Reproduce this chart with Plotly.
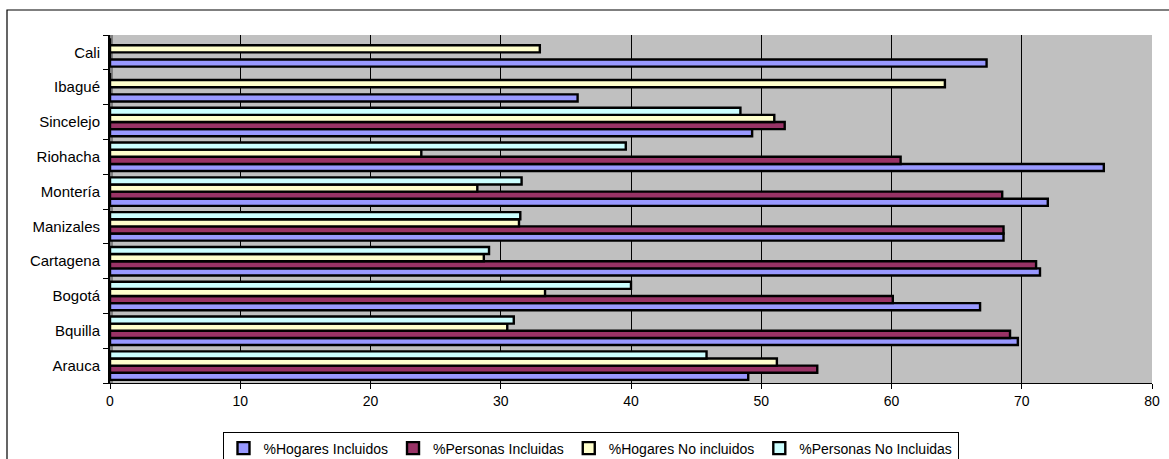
import plotly.graph_objects as go

ciudades = ["Arauca", "Bquilla", "Bogotá", "Cartagena", "Manizales",
            "Montería", "Riohacha", "Sincelejo", "Ibagué", "Cali"]

hogares_incluidos = [49.0, 69.7, 66.8, 71.4, 68.6, 72.0, 76.3, 49.3, 35.9, 67.3]
personas_incluidas = [54.3, 69.1, 60.1, 71.1, 68.6, 68.5, 60.7, 51.8, 0, 0]
hogares_no_incluidos = [51.2, 30.5, 33.4, 28.7, 31.4, 28.2, 23.9, 51.0, 64.1, 33.0]
personas_no_incluidas = [45.8, 31.0, 40.0, 29.1, 31.5, 31.6, 39.6, 48.4, 0, 0]

series_names = ["%Hogares Incluidos", "%Personas Incluidas",
                "%Hogares No incluidos", "%Personas No Incluidas"]
series_values = [hogares_incluidos, personas_incluidas,
                 hogares_no_incluidos, personas_no_incluidas]
series_colors = ["#9999FF", "#993366", "#FFFFCC", "#CCFFFF"]

x_ticks = [0, 10, 20, 30, 40, 50, 60, 70, 80]

W, H = 1169, 459
L, R, T, B = 110, 17, 35, 76

fig = go.Figure()
for name, vals, col in zip(series_names, series_values, series_colors):
    fig.add_trace(go.Bar(
        y=ciudades, x=vals, name=name, orientation="h",
        marker=dict(color=col, line=dict(color="black", width=2.4)),
    ))

pw = W - L - R
ph = H - T - B

def px_x(p):
    return (p - L) / pw

def px_y(p):
    return (H - B - p) / ph

fig.update_layout(
    width=W, height=H,
    margin=dict(l=L, r=R, t=T, b=B, autoexpand=False),
    barmode="group", bargap=0.18, bargroupgap=0.0,
    plot_bgcolor="#C0C0C0", paper_bgcolor="white",
    font=dict(family="Liberation Sans, Arial, sans-serif", size=14, color="black"),
    xaxis=dict(range=[0, 80], tickvals=x_ticks, ticks="outside", ticklen=5,
               tickcolor="black", showline=True, linecolor="black", linewidth=1,
               showgrid=True, gridcolor="black", gridwidth=1, zeroline=False,
               tickfont=dict(size=14), automargin=False),
    yaxis=dict(type="category", categoryorder="array", categoryarray=ciudades,
               ticks="outside", ticklen=5, tickcolor="black", tickson="boundaries",
               showline=True, linecolor="black", linewidth=2, showgrid=False,
               tickfont=dict(size=15), ticklabelstandoff=5, automargin=False),
    legend=dict(orientation="h", xref="container", yref="container",
                x=590.5 / W, xanchor="center",
                y=1 - 431.5 / H, yanchor="top", bordercolor="black", borderwidth=1,
                font=dict(size=14), bgcolor="white", traceorder="normal",
                itemwidth=30, tracegroupgap=0),
    shapes=[
        dict(type="rect", xref="paper", yref="paper",
             x0=px_x(7), x1=px_x(W + 20), y0=px_y(H + 20), y1=px_y(10),
             line=dict(color="black", width=1.2), fillcolor="rgba(0,0,0,0)",
             layer="below"),
        dict(type="rect", xref="paper", yref="paper",
             x0=0, x1=px_x(113), y0=0, y1=1,
             line=dict(width=0), fillcolor="#808080", layer="below"),
    ],
)

fig.write_html("out.html", config={"displayModeBar": False},
               post_script="document.body.style.margin='0';")
